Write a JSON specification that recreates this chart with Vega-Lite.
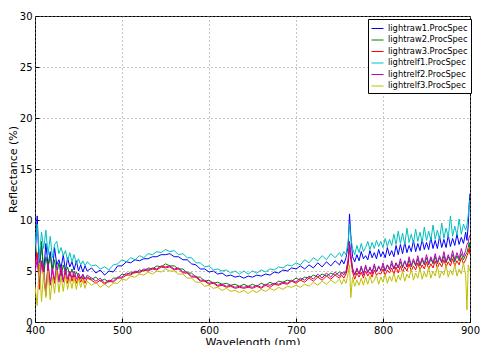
{
"$schema": "https://vega.github.io/schema/vega-lite/v6.json",
"width": 435, "height": 306,
"autosize": "none",
"padding": {"left": 35, "top": 16, "right": 10, "bottom": 23},
"background": "white",
"config": {
 "view": {"stroke": "black", "strokeWidth": 1},
 "font": "DejaVu Sans",
 "axis": {"labelFont": "DejaVu Sans", "titleFont": "DejaVu Sans", "labelFontSize": 10, "titleFontSize": 11, "titleFontWeight": "normal", "labelColor": "black", "titleColor": "black", "domain": false, "ticks": true, "tickSize": -4, "tickColor": "black", "labelPadding": 7, "labelFlush": false, "grid": true, "gridColor": "#888", "gridDash": [1, 3], "gridWidth": 1}
},
"data": {"values": [
{"w":400,"r1":6.0,"r2":7.8,"r3":5.5,"f1":7.5,"f2":4.8,"f3":3.5},
{"w":402.5,"r1":10.4,"r2":6.2,"r3":6.8,"f1":9.6,"f2":6.2,"f3":1.6},
{"w":405,"r1":5.2,"r2":5.0,"r3":3.2,"f1":6.4,"f2":3.9,"f3":5.8},
{"w":407.5,"r1":7.6,"r2":7.9,"r3":5.9,"f1":8.8,"f2":6.0,"f3":2.0},
{"w":410,"r1":4.9,"r2":4.6,"r3":4.4,"f1":7.2,"f2":5.1,"f3":4.9},
{"w":412.5,"r1":7.7,"r2":6.4,"r3":2.6,"f1":9.0,"f2":3.0,"f3":2.4},
{"w":415,"r1":5.5,"r2":5.3,"r3":5.8,"f1":6.6,"f2":5.7,"f3":5.0},
{"w":417.5,"r1":6.9,"r2":6.5,"r3":3.6,"f1":8.4,"f2":3.7,"f3":2.2},
{"w":420,"r1":5.0,"r2":4.9,"r3":5.1,"f1":6.3,"f2":5.3,"f3":4.4},
{"w":422.5,"r1":7.3,"r2":6.1,"r3":3.8,"f1":7.6,"f2":4.1,"f3":2.8},
{"w":425,"r1":5.6,"r2":4.7,"r3":5.0,"f1":7.9,"f2":5.6,"f3":5.1},
{"w":427.5,"r1":6.1,"r2":5.8,"r3":4.1,"f1":6.7,"f2":3.9,"f3":2.9},
{"w":430,"r1":5.3,"r2":4.5,"r3":5.2,"f1":7.3,"f2":5.5,"f3":4.5},
{"w":432.5,"r1":6.6,"r2":5.6,"r3":3.9,"f1":6.5,"f2":4.0,"f3":3.0},
{"w":435,"r1":5.0,"r2":4.8,"r3":4.8,"f1":7.0,"f2":5.3,"f3":4.6},
{"w":437.5,"r1":6.3,"r2":5.4,"r3":3.8,"f1":6.0,"f2":4.2,"f3":3.2},
{"w":440,"r1":5.4,"r2":4.5,"r3":4.9,"f1":6.8,"f2":5.0,"f3":4.3},
{"w":442.5,"r1":5.9,"r2":5.2,"r3":4.0,"f1":5.9,"f2":4.3,"f3":3.3},
{"w":445,"r1":5.1,"r2":4.4,"r3":4.6,"f1":6.6,"f2":5.0,"f3":4.4},
{"w":447.5,"r1":6.0,"r2":4.9,"r3":3.8,"f1":5.7,"f2":4.2,"f3":3.2},
{"w":450,"r1":5.0,"r2":4.5,"r3":4.5,"f1":6.2,"f2":4.8,"f3":4.3},
{"w":452.5,"r1":5.6,"r2":4.2,"r3":3.9,"f1":5.6,"f2":4.3,"f3":3.4},
{"w":455,"r1":4.9,"r2":4.6,"r3":4.4,"f1":6.0,"f2":4.7,"f3":4.1},
{"w":457.5,"r1":5.5,"r2":4.2,"r3":3.8,"f1":5.5,"f2":4.2,"f3":3.3},
{"w":460,"r1":5.0,"r2":4.4,"r3":4.3,"f1":5.9,"f2":4.6,"f3":4.0},
{"w":465,"r1":5.3,"r2":4.2,"r3":4.1,"f1":5.5,"f2":4.3,"f3":3.6},
{"w":470,"r1":4.8,"r2":4.4,"r3":3.8,"f1":5.6,"f2":4.0,"f3":3.9},
{"w":475,"r1":5.1,"r2":4.0,"r3":4.1,"f1":5.2,"f2":4.3,"f3":3.4},
{"w":480,"r1":4.6,"r2":4.2,"r3":3.7,"f1":5.4,"f2":3.8,"f3":3.7},
{"w":485,"r1":5.0,"r2":3.9,"r3":4.0,"f1":5.1,"f2":4.1,"f3":3.4},
{"w":490,"r1":4.9,"r2":4.3,"r3":3.9,"f1":5.6,"f2":4.0,"f3":3.8},
{"w":495,"r1":5.5,"r2":4.3,"r3":4.3,"f1":5.7,"f2":4.4,"f3":3.8},
{"w":500,"r1":5.5,"r2":4.7,"r3":4.3,"f1":6.1,"f2":4.4,"f3":4.2},
{"w":505,"r1":5.9,"r2":4.6,"r3":4.6,"f1":5.9,"f2":4.8,"f3":4.1},
{"w":510,"r1":5.8,"r2":4.9,"r3":4.6,"f1":6.3,"f2":4.7,"f3":4.5},
{"w":515,"r1":6.1,"r2":4.8,"r3":4.9,"f1":6.1,"f2":5.0,"f3":4.4},
{"w":520,"r1":6.0,"r2":5.1,"r3":4.8,"f1":6.5,"f2":4.9,"f3":4.7},
{"w":525,"r1":6.2,"r2":5.0,"r3":5.1,"f1":6.3,"f2":5.2,"f3":4.6},
{"w":530,"r1":6.2,"r2":5.3,"r3":5.0,"f1":6.7,"f2":5.1,"f3":4.9},
{"w":535,"r1":6.4,"r2":5.2,"r3":5.2,"f1":6.6,"f2":5.3,"f3":4.7},
{"w":540,"r1":6.4,"r2":5.5,"r3":5.1,"f1":6.9,"f2":5.2,"f3":5.0},
{"w":545,"r1":6.6,"r2":5.4,"r3":5.4,"f1":6.8,"f2":5.5,"f3":4.9},
{"w":550,"r1":6.6,"r2":5.7,"r3":5.3,"f1":7.1,"f2":5.4,"f3":5.2},
{"w":555,"r1":6.7,"r2":5.5,"r3":5.4,"f1":6.9,"f2":5.5,"f3":5.0},
{"w":560,"r1":6.4,"r2":5.5,"r3":5.1,"f1":7.0,"f2":5.2,"f3":5.0},
{"w":565,"r1":6.4,"r2":5.2,"r3":5.2,"f1":6.6,"f2":5.3,"f3":4.7},
{"w":570,"r1":6.1,"r2":5.2,"r3":4.8,"f1":6.7,"f2":4.9,"f3":4.7},
{"w":575,"r1":6.1,"r2":4.8,"r3":4.8,"f1":6.3,"f2":4.9,"f3":4.3},
{"w":580,"r1":5.7,"r2":4.8,"r3":4.4,"f1":6.3,"f2":4.5,"f3":4.3},
{"w":585,"r1":5.6,"r2":4.4,"r3":4.4,"f1":5.8,"f2":4.5,"f3":3.9},
{"w":590,"r1":5.2,"r2":4.4,"r3":4.0,"f1":5.8,"f2":4.1,"f3":3.9},
{"w":595,"r1":5.2,"r2":4.0,"r3":4.0,"f1":5.4,"f2":4.1,"f3":3.5},
{"w":600,"r1":4.9,"r2":4.1,"r3":3.7,"f1":5.5,"f2":3.8,"f3":3.6},
{"w":605,"r1":5.0,"r2":3.8,"r3":3.8,"f1":5.1,"f2":3.9,"f3":3.3},
{"w":610,"r1":4.7,"r2":3.9,"r3":3.5,"f1":5.2,"f2":3.6,"f3":3.4},
{"w":615,"r1":4.8,"r2":3.7,"r3":3.6,"f1":5.0,"f2":3.7,"f3":3.1},
{"w":620,"r1":4.5,"r2":3.8,"r3":3.4,"f1":5.1,"f2":3.5,"f3":3.3},
{"w":625,"r1":4.6,"r2":3.6,"r3":3.5,"f1":4.8,"f2":3.6,"f3":3.0},
{"w":630,"r1":4.4,"r2":3.7,"r3":3.3,"f1":5.0,"f2":3.4,"f3":3.1},
{"w":635,"r1":4.5,"r2":3.5,"r3":3.4,"f1":4.7,"f2":3.5,"f3":2.9},
{"w":640,"r1":4.3,"r2":3.7,"r3":3.3,"f1":5.0,"f2":3.4,"f3":3.1},
{"w":645,"r1":4.5,"r2":3.5,"r3":3.4,"f1":4.7,"f2":3.5,"f3":2.8},
{"w":650,"r1":4.4,"r2":3.7,"r3":3.3,"f1":5.0,"f2":3.4,"f3":3.1},
{"w":655,"r1":4.6,"r2":3.5,"r3":3.5,"f1":4.8,"f2":3.6,"f3":2.9},
{"w":660,"r1":4.5,"r2":3.8,"r3":3.3,"f1":5.1,"f2":3.4,"f3":3.2},
{"w":665,"r1":4.7,"r2":3.6,"r3":3.6,"f1":4.9,"f2":3.7,"f3":3.0},
{"w":670,"r1":4.6,"r2":3.9,"r3":3.4,"f1":5.2,"f2":3.6,"f3":3.3},
{"w":675,"r1":4.9,"r2":3.7,"r3":3.7,"f1":5.1,"f2":3.8,"f3":3.1},
{"w":680,"r1":4.8,"r2":4.0,"r3":3.6,"f1":5.4,"f2":3.7,"f3":3.4},
{"w":685,"r1":5.1,"r2":3.9,"r3":3.8,"f1":5.3,"f2":3.9,"f3":3.2},
{"w":690,"r1":5.0,"r2":4.1,"r3":3.7,"f1":5.6,"f2":3.8,"f3":3.5},
{"w":695,"r1":5.3,"r2":4.0,"r3":4.0,"f1":5.5,"f2":4.1,"f3":3.4},
{"w":700,"r1":5.2,"r2":4.3,"r3":3.8,"f1":5.8,"f2":3.9,"f3":3.6},
{"w":705,"r1":5.5,"r2":4.1,"r3":4.1,"f1":5.6,"f2":4.3,"f3":3.4},
{"w":710,"r1":5.2,"r2":4.4,"r3":3.9,"f1":6.1,"f2":4.1,"f3":3.7},
{"w":715,"r1":5.6,"r2":4.3,"r3":4.3,"f1":5.8,"f2":4.5,"f3":3.5},
{"w":720,"r1":5.3,"r2":4.6,"r3":4.0,"f1":6.3,"f2":4.2,"f3":3.9},
{"w":725,"r1":5.8,"r2":4.4,"r3":4.4,"f1":6.0,"f2":4.7,"f3":3.6},
{"w":730,"r1":5.4,"r2":4.7,"r3":4.1,"f1":6.5,"f2":4.3,"f3":4.0},
{"w":735,"r1":5.9,"r2":4.5,"r3":4.5,"f1":6.1,"f2":4.8,"f3":3.7},
{"w":740,"r1":5.5,"r2":4.8,"r3":4.2,"f1":6.7,"f2":4.4,"f3":4.1},
{"w":745,"r1":6.0,"r2":4.6,"r3":4.6,"f1":6.3,"f2":4.9,"f3":3.8},
{"w":750,"r1":5.6,"r2":4.9,"r3":4.3,"f1":6.8,"f2":4.5,"f3":4.2},
{"w":752.5,"r1":6.1,"r2":4.7,"r3":4.6,"f1":6.4,"f2":4.9,"f3":3.7},
{"w":755,"r1":5.7,"r2":4.9,"r3":4.3,"f1":6.9,"f2":4.6,"f3":4.2},
{"w":757.5,"r1":6.3,"r2":4.8,"r3":4.7,"f1":6.6,"f2":5.0,"f3":3.8},
{"w":760,"r1":7.5,"r2":6.0,"r3":5.6,"f1":8.0,"f2":6.2,"f3":4.8},
{"w":761.5,"r1":10.6,"r2":7.9,"r3":7.3,"f1":9.6,"f2":7.8,"f3":5.6},
{"w":763,"r1":8.5,"r2":6.6,"r3":6.1,"f1":8.3,"f2":6.5,"f3":2.4},
{"w":765,"r1":6.4,"r2":5.2,"r3":4.9,"f1":7.2,"f2":5.3,"f3":4.4},
{"w":767.5,"r1":5.9,"r2":4.6,"r3":4.2,"f1":6.6,"f2":4.6,"f3":3.5},
{"w":770,"r1":6.6,"r2":5.1,"r3":4.8,"f1":7.5,"f2":5.3,"f3":4.1},
{"w":772.5,"r1":6.0,"r2":4.7,"r3":4.4,"f1":6.8,"f2":4.7,"f3":3.6},
{"w":775,"r1":6.9,"r2":5.3,"r3":4.9,"f1":7.7,"f2":5.5,"f3":4.3},
{"w":777.5,"r1":6.2,"r2":4.8,"r3":4.3,"f1":6.9,"f2":4.6,"f3":3.6},
{"w":780,"r1":6.5,"r2":5.4,"r3":5.0,"f1":7.3,"f2":5.6,"f3":4.4},
{"w":782.5,"r1":6.1,"r2":4.9,"r3":4.5,"f1":7.9,"f2":4.8,"f3":3.7},
{"w":785,"r1":7.0,"r2":5.2,"r3":4.9,"f1":7.1,"f2":5.4,"f3":4.5},
{"w":787.5,"r1":6.3,"r2":5.0,"r3":4.4,"f1":7.8,"f2":4.7,"f3":3.8},
{"w":790,"r1":6.8,"r2":5.5,"r3":5.1,"f1":7.2,"f2":5.7,"f3":4.1},
{"w":792.5,"r1":6.2,"r2":4.9,"r3":4.6,"f1":8.0,"f2":4.9,"f3":4.6},
{"w":795,"r1":7.1,"r2":5.4,"r3":4.8,"f1":7.4,"f2":5.5,"f3":3.7},
{"w":797.5,"r1":6.4,"r2":5.1,"r3":4.7,"f1":7.9,"f2":5.0,"f3":4.4},
{"w":800,"r1":6.9,"r2":5.5,"r3":5.2,"f1":7.3,"f2":5.8,"f3":3.9},
{"w":802.5,"r1":6.3,"r2":5.0,"r3":4.6,"f1":8.2,"f2":5.0,"f3":4.7},
{"w":805,"r1":7.3,"r2":5.6,"r3":5.1,"f1":7.4,"f2":5.6,"f3":3.8},
{"w":807.5,"r1":6.5,"r2":5.2,"r3":4.8,"f1":8.1,"f2":5.1,"f3":4.5},
{"w":810,"r1":7.0,"r2":5.7,"r3":5.3,"f1":7.5,"f2":6.0,"f3":4.0},
{"w":812.5,"r1":6.4,"r2":5.2,"r3":4.7,"f1":8.6,"f2":5.2,"f3":4.8},
{"w":815,"r1":7.5,"r2":5.8,"r3":5.4,"f1":7.6,"f2":5.8,"f3":3.9},
{"w":817.5,"r1":6.6,"r2":5.3,"r3":4.8,"f1":8.9,"f2":5.3,"f3":4.6},
{"w":820,"r1":7.6,"r2":5.9,"r3":5.5,"f1":7.7,"f2":6.2,"f3":4.1},
{"w":822.5,"r1":6.7,"r2":5.3,"r3":4.9,"f1":8.7,"f2":5.4,"f3":5.0},
{"w":825,"r1":7.8,"r2":6.0,"r3":5.4,"f1":7.6,"f2":6.0,"f3":4.0},
{"w":827.5,"r1":6.8,"r2":5.4,"r3":5.0,"f1":9.2,"f2":5.4,"f3":4.7},
{"w":830,"r1":7.5,"r2":6.1,"r3":5.7,"f1":7.8,"f2":6.4,"f3":4.3},
{"w":832.5,"r1":6.9,"r2":5.4,"r3":5.0,"f1":8.6,"f2":5.5,"f3":5.2},
{"w":835,"r1":8.0,"r2":6.0,"r3":5.5,"f1":7.7,"f2":6.2,"f3":4.1},
{"w":837.5,"r1":6.9,"r2":5.5,"r3":5.1,"f1":9.1,"f2":5.6,"f3":4.8},
{"w":840,"r1":7.7,"r2":6.2,"r3":5.8,"f1":7.9,"f2":6.5,"f3":4.3},
{"w":842.5,"r1":7.0,"r2":5.5,"r3":5.1,"f1":8.8,"f2":5.6,"f3":5.3},
{"w":845,"r1":8.1,"r2":6.1,"r3":5.6,"f1":7.8,"f2":6.3,"f3":4.2},
{"w":847.5,"r1":7.1,"r2":5.6,"r3":5.2,"f1":9.3,"f2":5.7,"f3":4.9},
{"w":850,"r1":7.8,"r2":6.3,"r3":5.9,"f1":8.0,"f2":6.6,"f3":4.4},
{"w":852.5,"r1":7.1,"r2":5.6,"r3":5.2,"f1":8.9,"f2":5.7,"f3":5.4},
{"w":855,"r1":8.3,"r2":6.2,"r3":5.7,"f1":8.0,"f2":6.4,"f3":4.3},
{"w":857.5,"r1":7.2,"r2":5.7,"r3":5.3,"f1":9.5,"f2":5.8,"f3":5.0},
{"w":860,"r1":8.0,"r2":6.4,"r3":6.0,"f1":8.1,"f2":6.7,"f3":4.5},
{"w":862.5,"r1":7.2,"r2":5.7,"r3":5.3,"f1":9.0,"f2":5.8,"f3":5.5},
{"w":865,"r1":8.4,"r2":6.3,"r3":5.8,"f1":8.1,"f2":6.5,"f3":4.3},
{"w":867.5,"r1":7.3,"r2":5.8,"r3":5.4,"f1":9.7,"f2":5.9,"f3":5.0},
{"w":870,"r1":8.1,"r2":6.5,"r3":6.1,"f1":8.2,"f2":6.9,"f3":4.6},
{"w":872.5,"r1":7.3,"r2":5.8,"r3":5.4,"f1":9.2,"f2":5.9,"f3":5.6},
{"w":875,"r1":8.5,"r2":6.4,"r3":5.9,"f1":8.3,"f2":6.6,"f3":4.4},
{"w":877.5,"r1":7.4,"r2":5.9,"r3":5.5,"f1":10.4,"f2":6.0,"f3":5.1},
{"w":880,"r1":8.2,"r2":6.6,"r3":6.2,"f1":8.4,"f2":7.0,"f3":4.6},
{"w":882.5,"r1":7.5,"r2":5.9,"r3":5.5,"f1":9.4,"f2":6.1,"f3":5.7},
{"w":885,"r1":8.6,"r2":6.5,"r3":6.0,"f1":8.5,"f2":6.8,"f3":4.5},
{"w":887.5,"r1":7.6,"r2":6.0,"r3":5.6,"f1":10.1,"f2":6.2,"f3":5.2},
{"w":890,"r1":8.3,"r2":6.7,"r3":6.3,"f1":8.6,"f2":7.2,"f3":4.7},
{"w":892.5,"r1":7.7,"r2":6.1,"r3":5.7,"f1":9.6,"f2":6.4,"f3":5.8},
{"w":895,"r1":8.8,"r2":6.6,"r3":6.1,"f1":9.0,"f2":7.0,"f3":4.6},
{"w":896.5,"r1":8.0,"r2":6.8,"r3":6.5,"f1":9.5,"f2":7.6,"f3":1.2},
{"w":898,"r1":9.5,"r2":7.3,"r3":6.8,"f1":10.5,"f2":7.8,"f3":5.6},
{"w":899,"r1":11.5,"r2":7.8,"r3":7.2,"f1":11.5,"f2":8.3,"f3":5.2},
{"w":900,"r1":12.6,"r2":7.0,"r3":6.6,"f1":12.0,"f2":8.5,"f3":5.0}
]},
"transform": [{"fold": ["r1", "r2", "r3", "f1", "f2", "f3"], "as": ["s", "v"]}],
"mark": {"type": "line", "strokeWidth": 1, "clip": true},
"encoding": {
 "x": {"field": "w", "type": "quantitative", "scale": {"domain": [400, 900], "nice": false, "zero": false}, "axis": {"title": "Wavelength (nm)", "values": [400, 500, 600, 700, 800, 900], "titlePadding": 1}},
 "y": {"field": "v", "type": "quantitative", "scale": {"domain": [0, 30], "nice": false}, "axis": {"title": "Reflectance (%)", "values": [0, 5, 10, 15, 20, 25, 30], "titlePadding": 1}},
 "color": {"field": "s", "type": "nominal", "sort": null,
  "scale": {"domain": ["r1", "r2", "r3", "f1", "f2", "f3"], "range": ["#0000ff", "#008000", "#ff0000", "#00bfbf", "#bf00bf", "#bfbf00"]},
  "legend": {"title": null, "orient": "none", "legendX": 333, "legendY": 3, "strokeColor": "black", "fillColor": "white", "padding": 3, "symbolType": "stroke", "symbolSize": 144, "symbolStrokeWidth": 1, "labelFontSize": 8.3, "labelFont": "DejaVu Sans", "labelColor": "black", "rowPadding": 1.5, "labelOffset": 4,
   "labelExpr": "{'r1':'lightraw1.ProcSpec','r2':'lightraw2.ProcSpec','r3':'lightraw3.ProcSpec','f1':'lightrelf1.ProcSpec','f2':'lightrelf2.ProcSpec','f3':'lightrelf3.ProcSpec'}[datum.label]"}}
}
}
